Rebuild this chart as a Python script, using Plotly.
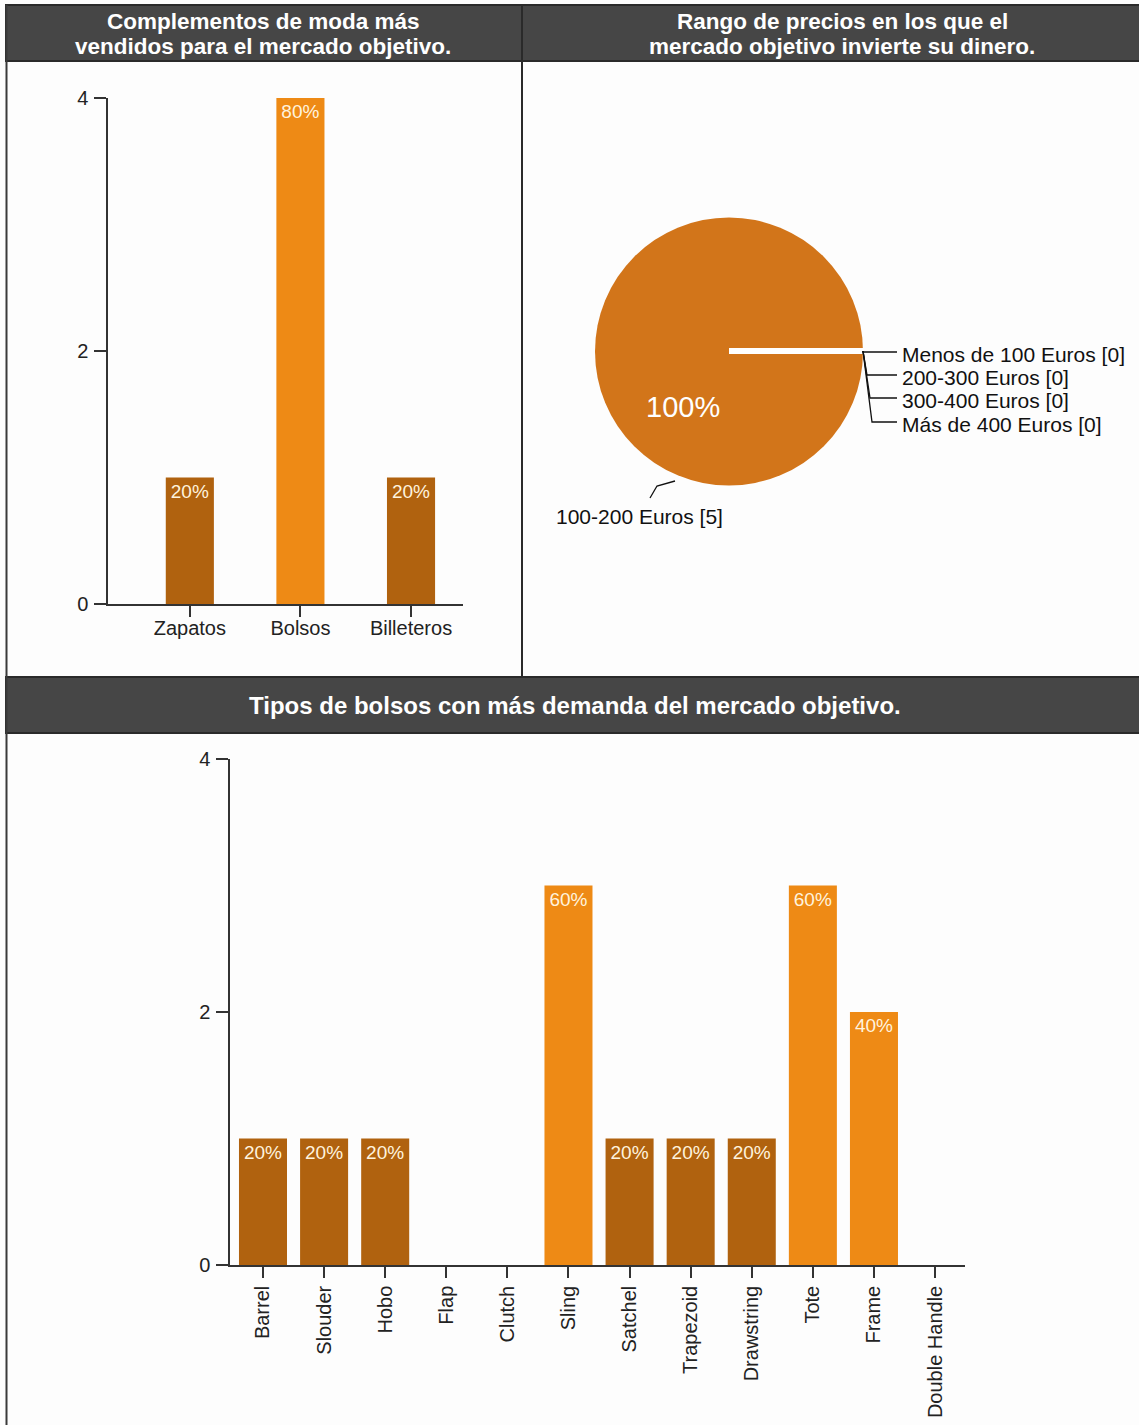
import plotly.graph_objects as go

# ---------------- data ----------------
respondents = 5

top_categories = ["Zapatos", "Bolsos", "Billeteros"]
top_values = [1, 4, 1]

price_labels = ["Menos de 100 Euros", "100-200 Euros", "200-300 Euros", "300-400 Euros", "Más de 400 Euros"]
price_values = [0, 5, 0, 0, 0]

bag_categories = ["Barrel", "Slouder", "Hobo", "Flap", "Clutch", "Sling", "Satchel",
                  "Trapezoid", "Drawstring", "Tote", "Frame", "Double Handle"]
bag_values = [1, 1, 1, 0, 0, 3, 1, 1, 1, 3, 2, 0]

y_ticks = [0, 2, 4]

title_top_left = ["Complementos de moda más", "vendidos para el mercado objetivo."]
title_top_right = ["Rango de precios en los que el", "mercado objetivo invierte su dinero."]
title_bottom = "Tipos de bolsos con más demanda del mercado objetivo."

# ---------------- styling ----------------
W, H = 1139, 1425
FONT = "Liberation Sans, Arial, sans-serif"
DARK_BAR = "#B0620F"
BRIGHT_BAR = "#EE8A15"
PIE_COLOR = "#D2751A"
HEADER_FILL = "#464646"
HEADER_LINE = "#2A2A2A"
TEXT_COL = "#222222"
LABEL_COL = "#FFF3DE"
BG = "#FDFDFD"


def px(x):
    return x / W


def py(y):
    return 1 - y / H


def bar_colors(vals):
    return [BRIGHT_BAR if v >= 2 else DARK_BAR for v in vals]


def bar_text(vals):
    return [f"{v / respondents * 100:.0f}%" if v > 0 else "" for v in vals]


fig = go.Figure()

fig.add_trace(go.Bar(
    x=top_categories, y=top_values, xaxis="x", yaxis="y",
    marker=dict(color=bar_colors(top_values), line=dict(width=0)),
    width=0.435,
    text=bar_text(top_values), textposition="inside", insidetextanchor="end",
    textangle=0, insidetextfont=dict(family=FONT, size=19, color=LABEL_COL),
    hoverinfo="x+y", showlegend=False,
))

fig.add_trace(go.Bar(
    x=bag_categories, y=bag_values, xaxis="x2", yaxis="y2",
    marker=dict(color=bar_colors(bag_values), line=dict(width=0)),
    width=0.786,
    text=bar_text(bag_values), textposition="inside", insidetextanchor="end",
    textangle=0, insidetextfont=dict(family=FONT, size=19, color=LABEL_COL),
    hoverinfo="x+y", showlegend=False,
))

fig.add_trace(go.Pie(
    labels=price_labels, values=price_values,
    marker=dict(colors=[PIE_COLOR] * len(price_labels), line=dict(width=0)),
    textinfo="none", sort=False, direction="clockwise", rotation=90,
    domain=dict(x=[px(595), px(863)], y=[py(486), py(217)]),
    automargin=False,
    showlegend=False, hoverinfo="label+value+percent",
))

axis_common = dict(
    showline=True, linecolor="#333333", linewidth=1.5,
    showgrid=False, zeroline=False, automargin=False,
    ticks="outside", tickcolor="#333333", tickwidth=1.5,
    tickfont=dict(family=FONT, size=20, color=TEXT_COL),
    fixedrange=True,
)

fig.update_layout(
    template="none",
    width=W, height=H,
    autosize=False,
    margin=dict(l=0, r=0, t=0, b=0, pad=0, autoexpand=False),
    paper_bgcolor=BG, plot_bgcolor="rgba(0,0,0,0)",
    font=dict(family=FONT, color=TEXT_COL),
    bargap=0.3,
    xaxis=dict(domain=[px(108), px(463)], anchor="y", range=[-0.74, 2.47],
               ticklen=11, ticklabelstandoff=-6, **axis_common),
    yaxis=dict(domain=[py(604), py(98)], anchor="x", range=[0, 4],
               tickvals=y_ticks, ticklen=12, ticklabelstandoff=2, **axis_common),
    xaxis2=dict(domain=[px(230), px(965)], anchor="y2", range=[-0.54, 11.49],
                ticklen=11, tickangle=-90, tickmode="array",
                tickvals=bag_categories, ticktext=bag_categories, **axis_common),
    yaxis2=dict(domain=[py(1265), py(759)], anchor="x2", range=[0, 4],
                tickvals=y_ticks, ticklen=12, ticklabelstandoff=2, **axis_common),
)

shapes = []
# header bands
shapes.append(dict(type="rect", xref="paper", yref="paper",
                   x0=px(6), x1=px(W + 5), y0=py(61), y1=py(5),
                   fillcolor=HEADER_FILL, line=dict(color=HEADER_LINE, width=2), layer="below"))
shapes.append(dict(type="rect", xref="paper", yref="paper",
                   x0=px(6), x1=px(W + 5), y0=py(733), y1=py(677),
                   fillcolor=HEADER_FILL, line=dict(color=HEADER_LINE, width=2), layer="below"))
# left border
shapes.append(dict(type="line", xref="paper", yref="paper",
                   x0=px(6.5), x1=px(6.5), y0=py(5), y1=py(H + 5),
                   line=dict(color="#3A3A3A", width=2)))
# vertical divider between top panels
shapes.append(dict(type="line", xref="paper", yref="paper",
                   x0=px(522), x1=px(522), y0=py(5), y1=py(677),
                   line=dict(color="#2A2A2A", width=2)))
# white gap in pie (slice boundary at 3 o'clock)
shapes.append(dict(type="line", xref="paper", yref="paper",
                   x0=px(729), x1=px(864), y0=py(351), y1=py(351),
                   line=dict(color="#FFFFFF", width=6)))

# pie leader lines (zero slices, right side)
label_rows = [354, 377, 400, 424]
elbows = [863, 867, 870, 872]
zero_labels = [(l, v) for l, v in zip(price_labels, price_values) if v == 0]
for (lab, val), yrow, ex in zip(zero_labels, label_rows, elbows):
    shapes.append(dict(type="path", xref="paper", yref="paper",
                       path=f"M {px(863)},{py(351)} L {px(ex)},{py(yrow - 2)} L {px(897)},{py(yrow - 2)}",
                       line=dict(color="#111111", width=1.3)))
# leader line for the non-zero slice
shapes.append(dict(type="path", xref="paper", yref="paper",
                   path=f"M {px(650)},{py(498)} L {px(657)},{py(486)} L {px(675)},{py(481)}",
                   line=dict(color="#111111", width=1.3)))

annotations = []
HEAD_SIZE = 22.5
# header texts (two lines each)
for i, line in enumerate(title_top_left):
    annotations.append(dict(xref="paper", yref="paper", x=px(263), y=py(21 + i * 25.5),
                            text=f"<b>{line}</b>", showarrow=False, xanchor="center", yanchor="middle",
                            borderpad=0,
                            font=dict(family=FONT, size=HEAD_SIZE, color="#FFFFFF")))
for i, line in enumerate(title_top_right):
    annotations.append(dict(xref="paper", yref="paper", x=px(842), y=py(21 + i * 25.5),
                            text=f"<b>{line}</b>", showarrow=False, xanchor="center", yanchor="middle",
                            borderpad=0,
                            font=dict(family=FONT, size=HEAD_SIZE, color="#FFFFFF")))
annotations.append(dict(xref="paper", yref="paper", x=px(575), y=py(705),
                        text=f"<b>{title_bottom}</b>", showarrow=False, xanchor="center", yanchor="middle",
                        font=dict(family=FONT, size=24, color="#FFFFFF")))

# pie labels
total_price = sum(price_values)
for (lab, val), yrow in zip(zero_labels, label_rows):
    annotations.append(dict(xref="paper", yref="paper", x=px(900), y=py(yrow),
                            text=f"{lab} [{val}]", showarrow=False, xanchor="left", yanchor="middle",
                            font=dict(family=FONT, size=21, color="#111111")))
for lab, val in zip(price_labels, price_values):
    if val > 0:
        annotations.append(dict(xref="paper", yref="paper", x=px(639), y=py(517),
                                text=f"{lab} [{val}]", showarrow=False, xanchor="center", yanchor="middle",
                                font=dict(family=FONT, size=21, color="#111111")))
        annotations.append(dict(xref="paper", yref="paper", x=px(683), y=py(407),
                                text=f"{val / total_price * 100:.0f}%", showarrow=False,
                                xanchor="center", yanchor="middle",
                                font=dict(family=FONT, size=29, color="#FFFFFF")))

fig.update_layout(shapes=shapes, annotations=annotations)

fig.write_html(
    "out.html",
    config={"displayModeBar": False},
    post_script="document.body.style.margin='0';document.body.style.padding='0';"
                "document.body.style.overflow='hidden';document.body.style.background='#FDFDFD';",
)
